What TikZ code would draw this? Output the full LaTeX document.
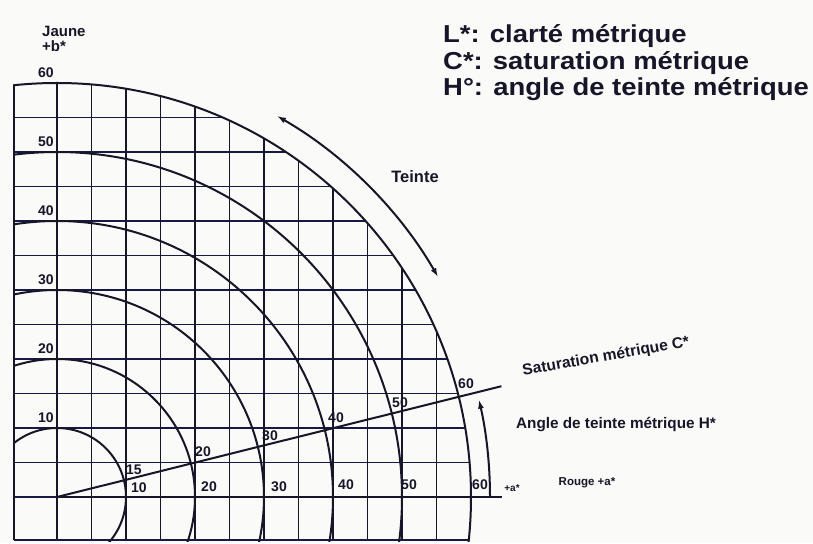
\documentclass[tikz,border=0pt]{standalone}
\usepackage{fontspec}
\setmainfont{Liberation Sans}
\newfontfamily\legendfont{Liberation Sans}[FakeStretch=1.12]
\usetikzlibrary{arrows.meta}
\definecolor{ink}{RGB}{22,22,40}
\definecolor{navy}{RGB}{24,24,70}
\definecolor{paper}{RGB}{250,250,248}
\begin{document}
\begin{tikzpicture}[x=1pt,y=1pt,
  vline/.style={ink, line width=1.8pt},
  hline/.style={navy, line width=1.8pt},
  circ/.style={ink, line width=2pt},
  arr/.style={ink, line width=2pt},
  num/.style={font=\bfseries\fontsize{14}{14}\selectfont, text=ink, inner sep=0pt},
  lbl/.style={font=\bfseries\fontsize{15}{15}\selectfont, text=ink, inner sep=0pt},
  legend/.style={font=\legendfont\bfseries\fontsize{24.5}{25}\selectfont, text=ink, inner sep=0pt, anchor=base west}]
\useasboundingbox (0,0) rectangle (813,543);
\fill[paper] (0,0) rectangle (813,543);
\coordinate (O) at (57,46);
% grid clipped by the outer circle
\begin{scope}
  \clip (O) circle [radius=414];
  \foreach \k in {0,...,12} \draw[hline] (14,{46+34.5*\k}) -- (813,{46+34.5*\k});
  \foreach \k in {0,...,12} \draw[vline] ({57+34.5*\k},3) -- ({57+34.5*\k},543);
  \draw[vline] (14,3) -- (14,543);
  \draw[hline] (14,3) -- (813,3);
\end{scope}
% circles of constant chroma
\begin{scope}
  \clip (13,2) rectangle (813,543);
  \foreach \k in {1,...,6} \draw[circ] (O) circle [radius={69*\k}];
\end{scope}
% a* axis
\coordinate (Aend) at (502,46);
\draw[circ] (O) -- (Aend);
% hue line
\coordinate (Hend) at ([shift={(14:458)}]O);
\draw[circ] (O) -- (Hend);
% hue angle arc
\coordinate (A0) at ([shift={(0:433)}]O);
\draw[arr, -{Latex[length=9pt,width=6pt]}] (A0) arc[start angle=0, end angle=13, radius=433];
% teinte arc
\coordinate (T0) at ([shift={(30:440)}]O);
\draw[arr, {Latex[length=9pt,width=6pt]}-{Latex[length=9pt,width=6pt]}] (T0) arc[start angle=30, end angle=60, radius=440];
% labels on the b* side
\foreach \k/\t in {1/10,2/20,3/30,4/40,5/50,6/60}
  \node[num] (b\k) at (46,{46+69*\k+10}) {\t};
% labels on the a* axis
\node[num] (a1) at (139,55) {10};
\node[num] (a2) at (209,56) {20};
\node[num] (a3) at (279,56) {30};
\node[num] (a4) at (346,58) {40};
\node[num] (a5) at (409,58) {50};
\node[num] (a6) at (480,58) {60};
% labels on the hue line
\node[num] (h1) at (134,73) {15};
\node[num] (h2) at (203,91) {20};
\node[num] (h3) at (270,107) {30};
\node[num] (h4) at (336,125) {40};
\node[num] (h5) at (400,140) {50};
\node[num] (h6) at (466,159) {60};
% text labels
\node[font=\bfseries\fontsize{10}{10}\selectfont, text=ink, inner sep=0pt] (plusa) at (512,55) {+a*};
\node[font=\bfseries\fontsize{15}{15}\selectfont, text=ink, inner sep=0pt, anchor=base west] (jaune) at (42,506) {Jaune};
\node[font=\bfseries\fontsize{15}{15}\selectfont, text=ink, inner sep=0pt, anchor=base west] (plusb) at (42,491) {+b*};
\node[font=\bfseries\fontsize{16.5}{16.5}\selectfont, text=ink, inner sep=0pt] (teinte) at (415,366) {Teinte};
\node[lbl, font=\bfseries\fontsize{15.6}{15.6}\selectfont, rotate=10] (sat) at (606,186) {Saturation métrique C*};
\node[lbl, font=\bfseries\fontsize{15.3}{15.3}\selectfont] (angle) at (616,118) {Angle de teinte métrique H*};
\node[lbl, font=\bfseries\fontsize{11.5}{11.5}\selectfont] (rouge) at (587,60) {Rouge +a*};
% legend
\node[legend] (l1) at (443,500) {L*: clarté métrique};
\node[legend] (l2) at (443,473) {C*: saturation métrique};
\node[legend] (l3) at (443,447) {H°: angle de teinte métrique};
\end{tikzpicture}
\end{document}
